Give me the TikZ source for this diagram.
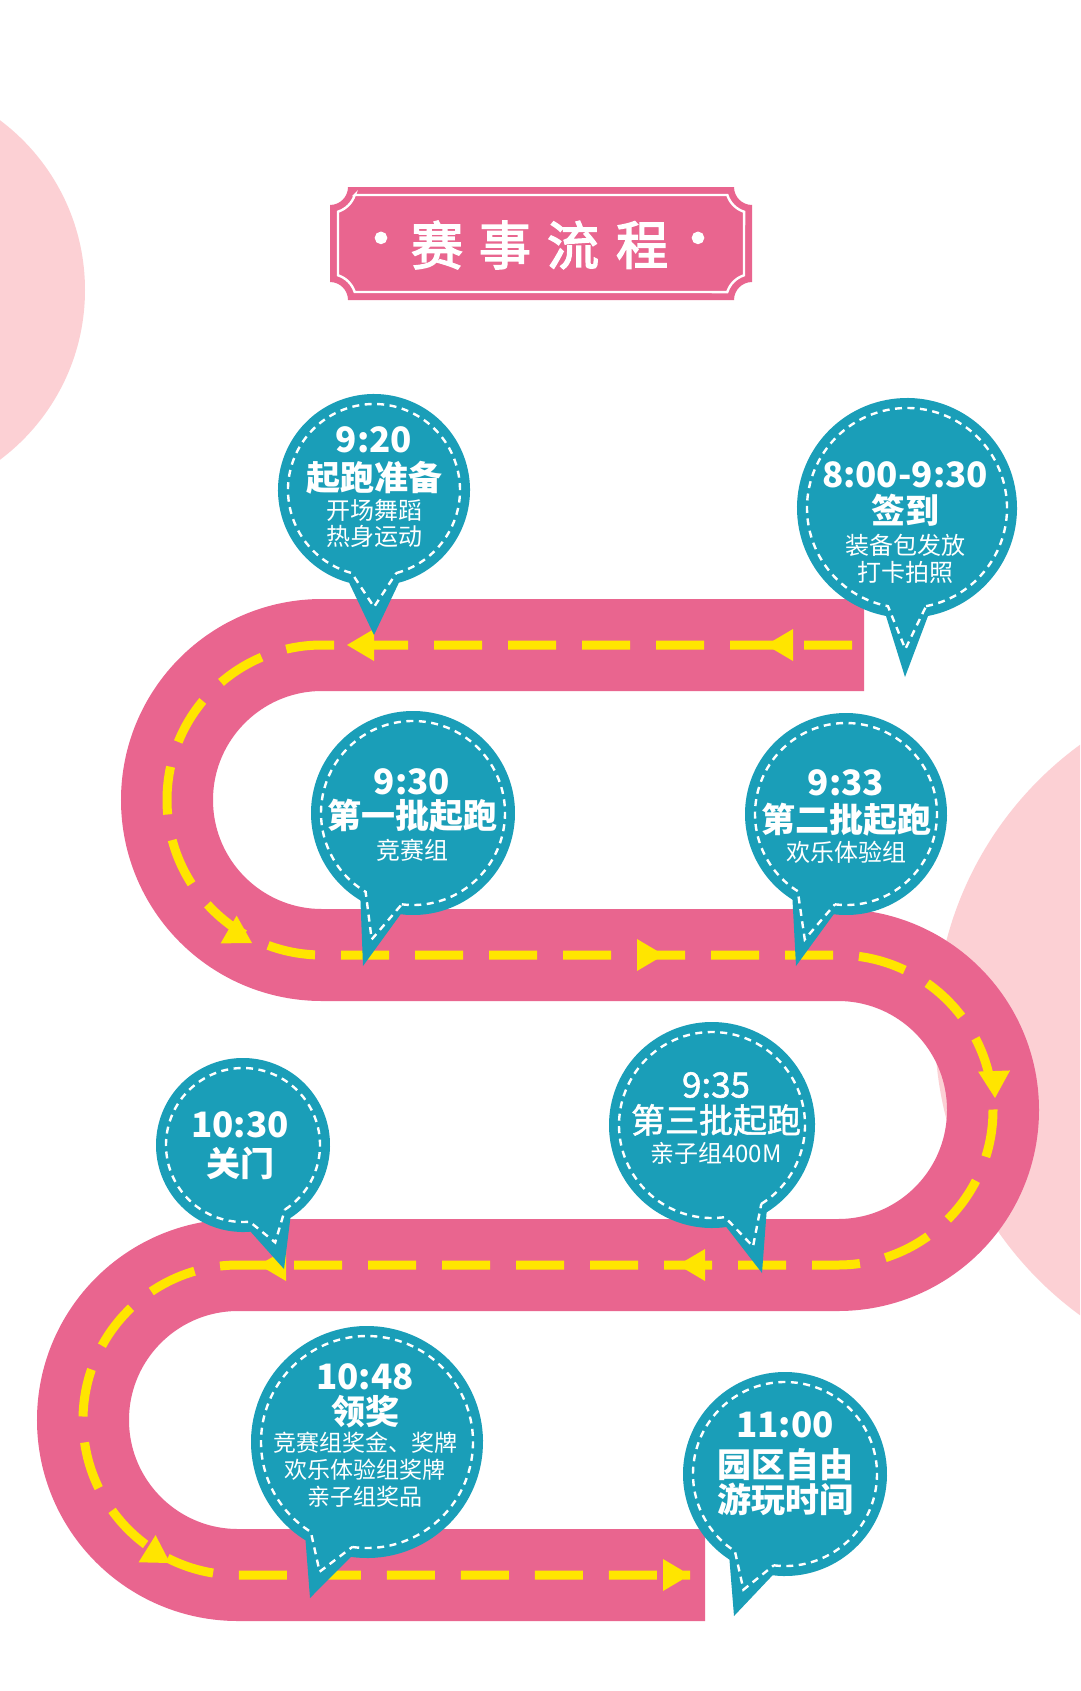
\documentclass[tikz,border=0pt]{standalone}
\usepackage{fontspec}
\newfontfamily\cjk{Noto Sans CJK SC}
\newfontfamily\cjkmed[FakeBold=1.5]{Noto Sans CJK SC}
\newfontfamily\cjktitle[FakeBold=3]{Noto Sans CJK SC}
\usetikzlibrary{calc}
\definecolor{roadpink}{RGB}{233,101,143}
\definecolor{bgpink}{RGB}{252,208,212}
\definecolor{bubteal}{RGB}{26,158,184}
\definecolor{lineyel}{RGB}{255,229,0}
\tikzset{
  road/.style={line width=92pt, draw=roadpink},
  midline/.style={line width=9pt, draw=lineyel, dash pattern=on 48pt off 26pt},
  ahead/.style={fill=lineyel},
  stitch/.style={draw=white, line width=2.4pt, dash pattern=on 7pt off 5.5pt},
  tm/.style={text=white, inner sep=0pt, font=\cjk\bfseries\fontsize{35}{35}\selectfont},
  hd/.style={text=white, inner sep=0pt, font=\cjk\bfseries\fontsize{34}{34}\selectfont},
  sb/.style={text=white, inner sep=0pt, font=\cjk\fontsize{24}{24}\selectfont},
  tt/.style={text=white, inner sep=0pt, font=\cjktitle\fontsize{52}{52}\selectfont},
}
% cx cy r ri a1 a2-360 tipx tipy
\newcommand\mybubble[8]{%
  \fill[bubteal] (#1,#2) ++(#5:#3) arc[start angle=#5, end angle=#6, radius=#3] -- (#7,#8) -- cycle;
  \coordinate (itip) at ($(#7,#8)!28pt!(#1,#2)$);
  \draw[stitch] (#1,#2) ++(#5:#4) arc[start angle=#5, end angle=#6, radius=#4] -- (itip) -- cycle;
}
% tip x, tip y, direction (image angle)
\newcommand\myarrow[3]{%
  \begin{scope}[shift={(#1,#2)}, rotate=#3]
    \fill[ahead] (0,0) -- (-27,-16) -- (-27,16) -- cycle;
  \end{scope}
}
\begin{document}
\begin{tikzpicture}[x=1pt, y=1pt, yscale=-1]
\useasboundingbox (0,0) rectangle (1080,1691);
\clip (0,0) rectangle (1080,1691);
\fill[white] (0,0) rectangle (1080,1691);
% background circles
\fill[bgpink] (-127,290) circle[radius=212];
\fill[bgpink] (1288,1030) circle[radius=353];
% title banner
\fill[roadpink] (348,187) -- (734,187) arc[start angle=180,end angle=90,radius=18]
  -- (752,282) arc[start angle=270,end angle=180,radius=18]
  -- (348,300) arc[start angle=0,end angle=-90,radius=18]
  -- (330,205) arc[start angle=90,end angle=0,radius=18] -- cycle;
\draw[white, line width=2.4pt] (354.7,195) -- (727.3,195) arc[start angle=162.1,end angle=107.9,radius=26]
  -- (744,275.3) arc[start angle=252.1,end angle=197.9,radius=26]
  -- (354.7,292) arc[start angle=-17.9,end angle=-72.1,radius=26]
  -- (338,211.7) arc[start angle=72.1,end angle=17.9,radius=26] -- cycle;
\node[tt] (td1) at (381,245) {·};
\node[tt] (tc1) at (437,245) {赛};
\node[tt] (tc2) at (505,245) {事};
\node[tt] (tc3) at (573,245) {流};
\node[tt] (tc4) at (642,245) {程};
\node[tt] (td2) at (698,245) {·};
% road
\draw[road] (864,645) -- (322,645) arc[start angle=270, end angle=90, radius=155]
  -- (838,955) arc[start angle=-90, end angle=90, radius=155]
  -- (238,1265) arc[start angle=270, end angle=90, radius=155] -- (705,1575);
\draw[midline] (852,645) -- (322,645) arc[start angle=270, end angle=90, radius=155]
  -- (838,955) arc[start angle=-90, end angle=90, radius=155]
  -- (238,1265) arc[start angle=270, end angle=90, radius=155] -- (690,1575);
% arrow heads
\myarrow{347}{645}{180}
\myarrow{766}{645}{180}
\myarrow{252}{943}{30}
\myarrow{664}{955}{0}
\myarrow{995}{1098}{88}
\myarrow{678}{1265}{180}
\myarrow{259}{1265}{180}
\myarrow{170}{1563}{32}
\myarrow{690}{1575}{0}
% bubbles
\mybubble{374}{490}{96}{86}{75}{-255}{374}{635}
\mybubble{907}{508}{110}{100}{79}{-259}{905}{677}
\mybubble{413}{813}{102}{92}{97}{-239}{363}{966}
\mybubble{846}{814}{101}{91}{97}{-238}{796}{966}
\mybubble{712}{1125}{103}{93}{58}{-278}{762}{1273}
\mybubble{243}{1145}{87}{77}{57}{-275}{284}{1269}
\mybubble{367}{1442}{116}{106}{98}{-238}{310}{1598}
\mybubble{785}{1474}{102}{92}{97}{-237}{734}{1616}
% texts
\node[tm] (b1a) at (374,440) {9:20};
\node[hd] (b1b) at (374,478) {起跑准备};
\node[sb] (b1c) at (374,510) {开场舞蹈};
\node[sb] (b1d) at (374,536) {热身运动};
\node[tm] (b2a) at (905,475) {8:00-9:30};
\node[hd] (b2b) at (905,510) {签到};
\node[sb] (b2c) at (905,545) {装备包发放};
\node[sb] (b2d) at (905,572) {打卡拍照};
\node[tm] (b3a) at (412,782) {9:30};
\node[hd] (b3b) at (412,816) {第一批起跑};
\node[sb] (b3c) at (412,850) {竞赛组};
\node[tm] (b4a) at (846,783) {9:33};
\node[hd] (b4b) at (846,820) {第二批起跑};
\node[sb] (b4c) at (846,852) {欢乐体验组};
\node[tm, font=\cjkmed\fontsize{35}{35}\selectfont] (b5a) at (716,1085) {9:35};
\node[hd, font=\cjkmed\fontsize{34}{34}\selectfont] (b5b) at (716,1120) {第三批起跑};
\node[sb] (b5c) at (716,1153) {亲子组400M};
\node[tm] (b6a) at (240,1125) {10:30};
\node[hd] (b6b) at (240,1163) {关门};
\node[tm] (b7a) at (365,1377) {10:48};
\node[hd] (b7b) at (365,1412) {领奖};
\node[sb, font=\cjk\fontsize{23}{23}\selectfont] (b7c) at (365,1443) {竞赛组奖金、奖牌};
\node[sb, font=\cjk\fontsize{23}{23}\selectfont] (b7d) at (365,1470) {欢乐体验组奖牌};
\node[sb, font=\cjk\fontsize{23}{23}\selectfont] (b7e) at (365,1497) {亲子组奖品};
\node[tm] (b8a) at (785,1425) {11:00};
\node[hd] (b8b) at (785,1465) {园区自由};
\node[hd] (b8c) at (785,1499) {游玩时间};
\end{tikzpicture}
\end{document}
